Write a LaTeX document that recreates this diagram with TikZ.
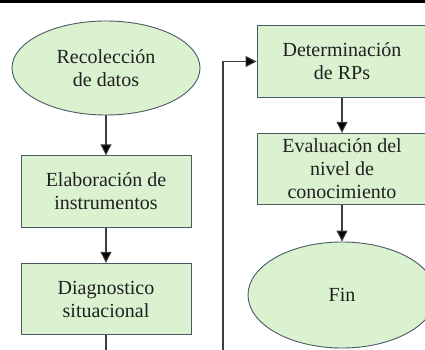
\documentclass[tikz,border=0pt]{standalone}
\usepackage{fontspec}
\setmainfont{Liberation Serif}
\usetikzlibrary{shapes.geometric,arrows.meta}
\definecolor{boxfill}{RGB}{218,242,208}
\definecolor{boxline}{RGB}{72,90,100}
\definecolor{txt}{RGB}{32,32,32}
\definecolor{conn}{RGB}{60,60,60}
\begin{document}
\begin{tikzpicture}[x=1pt,y=-1pt,
  base/.style={draw=boxline,fill=boxfill,line width=0.9pt,text=txt,align=center,
    font=\fontsize{20}{23}\selectfont,inner sep=0pt},
  procbox/.style={base,rectangle,minimum width=170pt,minimum height=71.5pt},
  term/.style={base,ellipse,minimum width=188pt},
  conline/.style={draw=conn,line width=1.1pt},
  arr/.style={conline,-{Triangle[length=11pt,width=11pt,fill=black]}}]
\useasboundingbox (0,0) rectangle (425,350);
\fill[black] (0,0) rectangle (425,3);
\node[term,minimum height=94pt] (rec) at (106,68) {Recolección\\de datos};
\node[procbox] (ela) at (106,191.5) {Elaboración de\\instrumentos};
\node[procbox] (dia) at (106,299) {Diagnostico\\situacional};
\node[procbox] (det) at (342,61.5) {Determinación\\de RPs};
\node[procbox] (eva) at (342,169) {Evaluación del\\nivel de\\conocimiento};
\node[term,minimum height=106pt] (fin) at (342,295) {Fin};
\coordinate (dout) at (106,352);
\coordinate (cin) at (223,352);
\draw[arr] (rec) -- (ela);
\draw[arr] (ela) -- (dia);
\draw[conline] (dia) -- (dout);
\draw[arr] (cin) |- (det.west);
\draw[arr] (det) -- (eva);
\draw[arr] (eva) -- (fin);
\end{tikzpicture}
\end{document}
